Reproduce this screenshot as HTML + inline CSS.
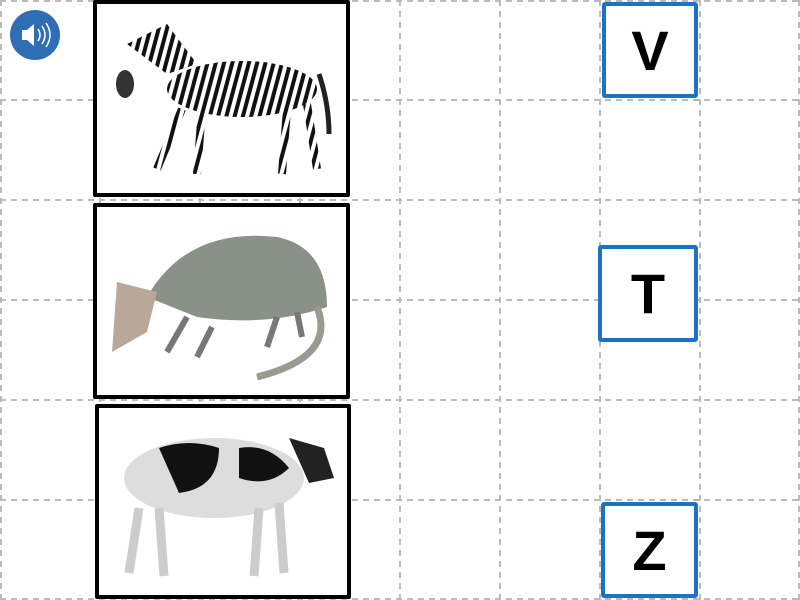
<!DOCTYPE html>
<html><head><meta charset="utf-8"><style>
body{margin:0;width:800px;height:600px;overflow:hidden;background:#fff;font-family:"Liberation Sans",sans-serif}
svg{position:absolute;left:0;top:0}
.card{position:absolute;border:4px solid #000;background:#fff;box-sizing:border-box;border-radius:2px}
.letter{position:absolute;border:4px solid #1a73c4;background:#fff;box-sizing:border-box;border-radius:3px;display:flex;align-items:center;justify-content:center;font-weight:bold;font-size:56px;color:#000}
</style></head><body>
<svg width="800" height="600">
<g stroke="#bbb" stroke-width="2" stroke-dasharray="6,5">
<line x1="1" y1="0" x2="1" y2="600"/><line x1="100" y1="0" x2="100" y2="600"/><line x1="200" y1="0" x2="200" y2="600"/><line x1="300" y1="0" x2="300" y2="600"/><line x1="400" y1="0" x2="400" y2="600"/><line x1="500" y1="0" x2="500" y2="600"/><line x1="600" y1="0" x2="600" y2="600"/><line x1="700" y1="0" x2="700" y2="600"/><line x1="799" y1="0" x2="799" y2="600"/>
<line x1="0" y1="1" x2="800" y2="1"/><line x1="0" y1="100" x2="800" y2="100"/><line x1="0" y1="200" x2="800" y2="200"/><line x1="0" y1="300" x2="800" y2="300"/><line x1="0" y1="400" x2="800" y2="400"/><line x1="0" y1="500" x2="800" y2="500"/><line x1="0" y1="599" x2="800" y2="599"/>
</g></svg>
<svg width="800" height="600" style="pointer-events:none">
<g style="pointer-events:auto">
<circle cx="35" cy="35" r="25" fill="#2f6db5"/>
<path d="M22 30h5l7-6v22l-7-6h-5z" fill="#fff"/>
<path d="M38 29q4 6 0 12M42 26q6 9 0 18M46 23q8 12 0 24" stroke="#fff" stroke-width="1.5" fill="none"/>
</g></svg>
<div class="card" style="left:93px;top:0;width:257px;height:197px">
<svg width="249" height="189">
<defs><pattern id="st" width="8" height="8" patternUnits="userSpaceOnUse" patternTransform="rotate(15)"><rect width="8" height="8" fill="#fff"/><rect width="4" height="8" fill="#111"/></pattern></defs>
<ellipse cx="145" cy="85" rx="75" ry="28" fill="url(#st)"/>
<path d="M30 40l40-20 30 40-30 10z" fill="url(#st)"/>
<ellipse cx="28" cy="80" rx="9" ry="14" fill="#333"/>
<g stroke="url(#st)" stroke-width="8"><line x1="85" y1="105" x2="60" y2="165"/><line x1="105" y1="105" x2="100" y2="170"/><line x1="190" y1="105" x2="185" y2="170"/><line x1="210" y1="100" x2="220" y2="165"/></g>
<path d="M222 70q10 30 10 60" stroke="#222" stroke-width="5" fill="none"/>
</svg></div>
<div class="card" style="left:93px;top:203px;width:257px;height:196px">
<svg width="249" height="188">
<path d="M50 90q40-70 130-60 50 10 50 70-60 20-130 10z" fill="#8a9186"/>
<path d="M20 75l40 10-10 40-35 20z" fill="#b9a79a"/>
<g stroke="#777" stroke-width="6"><line x1="90" y1="110" x2="70" y2="145"/><line x1="115" y1="120" x2="100" y2="150"/><line x1="180" y1="110" x2="170" y2="140"/><line x1="200" y1="105" x2="205" y2="130"/></g>
<path d="M220 100q20 50-60 70" stroke="#9a9a90" stroke-width="7" fill="none"/>
</svg></div>
<div class="card" style="left:95px;top:404px;width:256px;height:195px">
<svg width="248" height="187">
<ellipse cx="115" cy="70" rx="90" ry="40" fill="#ddd"/>
<path d="M60 40q30-10 60 0 0 40-40 45z M140 40q30-5 50 20-20 20-50 10z" fill="#111"/>
<path d="M190 30l35 10 10 30-25 5z" fill="#222"/>
<g stroke="#ccc" stroke-width="9"><line x1="40" y1="100" x2="30" y2="165"/><line x1="60" y1="100" x2="65" y2="168"/><line x1="160" y1="100" x2="155" y2="168"/><line x1="180" y1="95" x2="185" y2="165"/></g>
</svg></div>
<div class="letter" style="left:602px;top:2px;width:96px;height:96px">V</div>
<div class="letter" style="left:598px;top:245px;width:100px;height:97px">T</div>
<div class="letter" style="left:601px;top:502px;width:97px;height:96px">Z</div>
</body></html>
